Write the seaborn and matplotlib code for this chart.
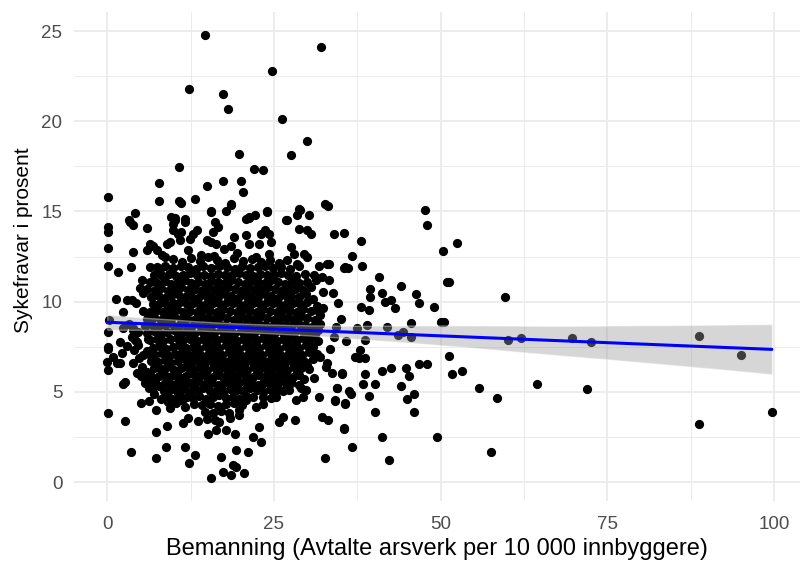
import matplotlib
matplotlib.use("Agg")
import matplotlib.pyplot as plt
import seaborn as sns
import pandas as pd

# ---------------- data ----------------
# (bemanning, sykefravar) pairs, grouped by region of the cloud
top_points = [
    (14.6, 24.8), (32.1, 24.1), (24.7, 22.76), (12.2, 21.8), (17.3, 21.5), (18.1, 20.7),
    (26.2, 20.1), (29.9, 18.9), (27.6, 18.1), (19.8, 18.2), (10.7, 17.46), (22.0, 17.37),
    (23.4, 17.28), (7.75, 16.6), (17.3, 16.7), (20.0, 16.7), (14.9, 16.4), (20.3, 16.1),
    (0.15, 15.8), (13.2, 15.7), (7.75, 15.56), (10.7, 15.56), (11.0, 15.45), (18.6, 15.4),
    (17.8, 15.0), (15.6, 15.0), (23.9, 15.0), (28.9, 15.1), (28.4, 14.8), (30.3, 14.8),
    (32.6, 15.4), (33.1, 15.3), (4.1, 14.9), (10.2, 14.65), (11.7, 14.56), (21.2, 14.65),
    (22.2, 14.8), (26.9, 14.55), (3.2, 14.5),
]

upper_points = [
    (0.15, 14.14), (0.15, 13.86), (0.15, 12.99), (0.15, 12.0), (1.6, 11.64), (3.6, 11.92),
    (3.8, 12.75), (3.4, 14.41), (3.9, 14.23), (6.0, 14.1), (6.4, 13.2), (6.9, 13.1),
    (5.9, 12.84), (7.4, 12.84), (8.2, 12.57), (8.6, 12.47), (6.4, 11.92), (7.9, 11.83),
    (9.6, 14.69), (10.1, 14.5), (9.9, 14.32), (11.6, 14.41), (9.9, 13.95), (10.6, 13.77),
    (11.1, 13.86), (9.4, 13.3), (8.9, 13.21), (10.9, 13.4), (12.1, 12.84), (12.9, 13.77),
    (13.4, 13.95), (12.4, 13.49), (15.6, 14.97), (16.1, 14.41), (16.6, 14.14), (15.8, 13.86),
    (14.9, 13.4), (15.6, 13.3), (16.3, 13.21), (18.6, 15.34), (21.3, 14.69), (20.8, 14.6),
    (24.0, 14.97), (20.8, 13.68), (21.3, 13.22), (23.1, 13.77), (23.6, 13.95), (24.3, 13.77),
    (24.5, 13.3), (22.8, 13.22), (24.3, 12.66), (22.3, 12.47), (26.8, 14.5), (28.8, 15.15),
    (28.8, 14.05), (30.0, 13.95), (30.5, 13.77), (27.5, 13.03), (28.0, 12.66), (29.5, 12.66),
    (30.0, 12.47), (17.5, 12.9), (18.5, 13.1), (19.5, 12.7), (14.0, 12.6), (16.0, 12.55),
    (19.0, 13.6), (27.0, 12.3), (28.5, 12.1), (31.7, 12.0), (33.0, 12.1), (32.2, 11.37),
    (35.7, 11.92),
]

left_points = [
    (1.3, 10.17), (2.9, 10.08), (3.7, 10.08), (2.4, 9.43), (0.15, 8.32), (0.15, 7.49),
    (2.4, 8.51), (3.9, 8.51), (3.7, 8.05), (4.4, 7.77), (5.2, 11.18), (4.9, 10.73),
    (5.4, 10.45), (0.2, 8.97), (3.9, 8.42), (4.2, 7.86), (1.9, 7.77), (0.15, 6.2),
    (0.15, 7.4), (0.0, 6.66), (1.9, 6.57), (0.9, 6.94), (2.2, 7.13), (3.9, 6.57),
    (4.4, 6.02), (5.4, 5.83), (6.4, 5.65), (5.4, 7.03), (1.4, 6.57), (2.4, 5.46),
    (2.6, 5.52), (5.6, 5.5), (6.8, 5.28),
]

lower_points = [
    (0.15, 3.84), (2.6, 3.4), (3.6, 1.66), (7.3, 1.31), (7.3, 2.79), (8.8, 1.95),
    (9.0, 3.12), (11.7, 1.95), (12.2, 1.07), (13.2, 1.48), (15.6, 0.2), (17.1, 1.38),
    (17.3, 0.57), (18.6, 0.39), (18.8, 0.94), (19.3, 0.85), (20.5, 0.48), (19.3, 1.77),
    (21.1, 1.66), (21.8, 2.49), (23.1, 2.21), (22.8, 3.06), (19.1, 2.66), (15.1, 2.66),
    (16.3, 2.88), (17.8, 2.88), (16.8, 3.34), (19.8, 3.99), (19.8, 3.71), (13.6, 3.4),
    (12.1, 3.53), (11.4, 3.25), (25.8, 3.34), (26.3, 3.62), (28.2, 3.43), (32.2, 3.62),
    (33.1, 3.43), (32.6, 1.31), (35.5, 2.97), (5.0, 4.36), (6.2, 4.5), (7.3, 3.99),
    (9.1, 4.45), (9.4, 4.08), (10.9, 4.54), (11.9, 4.72), (11.7, 4.17), (21.8, 4.72),
    (22.3, 4.17), (20.8, 4.54), (24.5, 5.09), (25.3, 4.72), (27.3, 5.09), (28.3, 4.54),
    (29.3, 4.72), (29.8, 5.09), (31.7, 4.72), (34.2, 4.54), (34.5, 5.19), (35.7, 4.36),
    (35.2, 6.02),
]

right_points = [
    (47.6, 15.08), (48.0, 14.27), (52.5, 13.25), (50.3, 12.8), (51.0, 11.07), (51.2, 11.07),
    (59.6, 10.24), (50.1, 8.88), (50.5, 8.88), (51.3, 6.96), (51.7, 5.96), (53.2, 6.14),
    (55.7, 5.22), (58.4, 4.67), (57.6, 1.66), (64.5, 5.41), (60.1, 7.85), (62.0, 7.97),
    (69.7, 8.01), (72.6, 7.75), (71.9, 5.13), (88.8, 8.07), (95.0, 7.05), (88.8, 3.21),
    (99.7, 3.86), (49.5, 2.49), (42.3, 1.22), (41.2, 2.49), (36.7, 1.95), (35.5, 2.93),
    (40.2, 3.86), (46.0, 3.86), (45.0, 4.6), (46.0, 4.87), (44.1, 5.32), (39.2, 4.78),
    (40.2, 5.41), (38.3, 5.41), (38.7, 5.96), (41.2, 6.15), (42.6, 6.33), (44.8, 6.33),
    (45.3, 5.87), (46.8, 6.52), (48.0, 6.52), (34.2, 4.5), (35.7, 4.32), (36.2, 5.06),
    (36.5, 4.87), (34.5, 5.22), (33.7, 6.05), (35.2, 5.96), (37.2, 6.94), (37.7, 6.85),
    (38.7, 6.85), (37.9, 7.31), (38.7, 7.85), (35.8, 7.79), (43.6, 8.14), (45.5, 8.05),
    (44.4, 8.32), (41.9, 8.6), (45.6, 8.79), (38.9, 8.69), (37.5, 8.54), (49.0, 9.71),
    (46.8, 9.9), (46.3, 10.43), (43.1, 9.62), (42.6, 10.08), (41.6, 9.98), (41.2, 10.45),
    (44.1, 10.89), (40.7, 11.35), (39.4, 10.7), (39.4, 10.26), (39.2, 9.52), (38.0, 9.71),
    (38.2, 11.98), (36.7, 12.53), (35.5, 11.89), (36.1, 11.89), (38.0, 13.36), (34.0, 13.73),
    (35.5, 13.82), (33.2, 12.1), (33.2, 11.2),
]

core_points = [
    (9.8, 12.35), (11.2, 12.2), (12.5, 12.4), (13.9, 12.25), (15.1, 12.45), (16.4, 12.3),
    (17.6, 12.15), (19.0, 12.4), (20.3, 12.25), (21.7, 12.35), (23.0, 12.2), (24.4, 12.3),
    (25.8, 12.15),
    (7.5, 11.9), (8.7, 11.95), (9.9, 11.85), (11.0, 12.0), (12.1, 11.9), (13.3, 11.8),
    (14.4, 11.95), (15.6, 11.85), (16.7, 12.0), (17.9, 11.9), (19.1, 11.8), (20.2, 11.95),
    (21.4, 11.85), (22.6, 11.9), (23.7, 12.0), (24.9, 11.85), (26.1, 11.9), (27.4, 11.8),
    (28.8, 11.95),
    (7.0, 11.5), (8.1, 11.45), (9.2, 11.55), (10.3, 11.4), (11.3, 11.5), (12.4, 11.6),
    (13.4, 11.45), (14.5, 11.5), (15.5, 11.4), (16.6, 11.55), (17.6, 11.5), (18.7, 11.45),
    (19.7, 11.6), (20.8, 11.5), (21.8, 11.4), (22.9, 11.55), (23.9, 11.5), (25.0, 11.45),
    (26.0, 11.6), (27.1, 11.5), (28.3, 11.4), (29.6, 11.55), (31.0, 11.45),
    (6.4, 11.1), (7.5, 11.05), (8.6, 11.15), (9.6, 11.0), (10.6, 11.1), (11.6, 11.2),
    (12.6, 11.05), (13.6, 11.1), (14.6, 11.0), (15.6, 11.15), (16.6, 11.1), (17.6, 11.05),
    (18.6, 11.2), (19.6, 11.1), (20.6, 11.0), (21.6, 11.15), (22.6, 11.1), (23.6, 11.05),
    (24.6, 11.2), (25.6, 11.1), (26.6, 11.0), (27.7, 11.15), (28.8, 11.05), (30.0, 11.1),
    (31.3, 11.2),
    (6.0, 10.7), (7.1, 10.65), (8.1, 10.75), (9.1, 10.6), (10.1, 10.7), (11.1, 10.8),
    (12.1, 10.65), (13.1, 10.7), (14.1, 10.6), (15.1, 10.75), (16.1, 10.7), (17.1, 10.65),
    (18.1, 10.8), (19.1, 10.7), (20.1, 10.6), (21.1, 10.75), (22.1, 10.7), (23.1, 10.65),
    (24.1, 10.8), (25.1, 10.7), (26.1, 10.6), (27.1, 10.75), (28.2, 10.7), (29.3, 10.65),
    (30.5, 10.8), (32.4, 10.55),
    (6.9, 10.3), (6.6, 10.25), (7.6, 10.35), (8.6, 10.2), (9.6, 10.3), (10.6, 10.4),
    (11.6, 10.25), (12.6, 10.3), (13.6, 10.2), (14.6, 10.35), (15.6, 10.3), (16.6, 10.25),
    (17.6, 10.4), (18.6, 10.3), (19.6, 10.2), (20.6, 10.35), (21.6, 10.3), (22.6, 10.25),
    (23.6, 10.4), (24.6, 10.3), (25.6, 10.2), (26.6, 10.35), (27.6, 10.3), (28.7, 10.25),
    (29.8, 10.4), (30.8, 10.15), (33.9, 10.45),
    (4.3, 9.95), (6.9, 9.85), (7.9, 9.95), (8.9, 9.8), (9.9, 9.9), (10.9, 10.0),
    (11.9, 9.85), (12.9, 9.9), (13.9, 9.8), (14.9, 9.95), (15.9, 9.9), (16.9, 9.85),
    (17.9, 10.0), (18.9, 9.9), (19.9, 9.8), (20.9, 9.95), (21.9, 9.9), (22.9, 9.85),
    (23.9, 10.0), (24.9, 9.9), (25.9, 9.8), (26.9, 9.95), (27.9, 9.9), (28.9, 9.85),
    (30.0, 10.0), (31.4, 9.75), (34.6, 9.95),
    (5.4, 9.5), (6.4, 9.45), (7.4, 9.55), (8.4, 9.4), (9.4, 9.5), (10.4, 9.6),
    (11.4, 9.45), (12.4, 9.5), (13.4, 9.4), (14.4, 9.55), (15.4, 9.5), (16.4, 9.45),
    (17.4, 9.6), (18.4, 9.5), (19.4, 9.4), (20.4, 9.55), (21.4, 9.5), (22.4, 9.45),
    (23.4, 9.6), (24.4, 9.5), (25.4, 9.4), (26.4, 9.55), (27.4, 9.5), (28.4, 9.45),
    (29.4, 9.6), (30.5, 9.5), (31.7, 9.4), (32.4, 9.65),
    (6.1, 9.1), (6.0, 9.05), (7.0, 9.15), (8.0, 9.0), (9.0, 9.1), (10.0, 9.2),
    (11.0, 9.05), (12.0, 9.1), (13.0, 9.0), (14.0, 9.15), (15.0, 9.1), (16.0, 9.05),
    (17.0, 9.2), (18.0, 9.1), (19.0, 9.0), (20.0, 9.15), (21.0, 9.1), (22.0, 9.05),
    (23.0, 9.2), (24.0, 9.1), (25.0, 9.0), (26.0, 9.15), (27.0, 9.1), (28.0, 9.05),
    (29.0, 9.2), (30.0, 9.1), (31.1, 9.0), (31.9, 9.25), (35.0, 9.05),
    (3.3, 8.75), (5.6, 8.65), (6.6, 8.75), (7.6, 8.6), (8.6, 8.7), (9.6, 8.8),
    (10.6, 8.65), (11.6, 8.7), (12.6, 8.6), (13.6, 8.75), (14.6, 8.7), (15.6, 8.65),
    (16.6, 8.8), (17.6, 8.7), (18.6, 8.6), (19.6, 8.75), (20.6, 8.7), (21.6, 8.65),
    (22.6, 8.8), (23.6, 8.7), (24.6, 8.6), (25.6, 8.75), (26.6, 8.7), (27.6, 8.65),
    (28.6, 8.8), (29.6, 8.7), (30.7, 8.6), (31.9, 8.75), (34.3, 8.6),
    (4.6, 8.3), (6.0, 8.25), (7.0, 8.35), (8.0, 8.2), (9.0, 8.3), (10.0, 8.4),
    (11.0, 8.25), (12.0, 8.3), (13.0, 8.2), (14.0, 8.35), (15.0, 8.3), (16.0, 8.25),
    (17.0, 8.4), (18.0, 8.3), (19.0, 8.2), (20.0, 8.35), (21.0, 8.3), (22.0, 8.25),
    (23.0, 8.4), (24.0, 8.3), (25.0, 8.2), (26.0, 8.35), (27.0, 8.3), (28.0, 8.25),
    (29.0, 8.4), (30.0, 8.3), (31.2, 8.2), (31.6, 8.45),
    (6.1, 7.9), (6.4, 7.85), (7.4, 7.95), (8.4, 7.8), (9.4, 7.9), (10.4, 8.0),
    (11.4, 7.85), (12.4, 7.9), (13.4, 7.8), (14.4, 7.95), (15.4, 7.9), (16.4, 7.85),
    (17.4, 8.0), (18.4, 7.9), (19.4, 7.8), (20.4, 7.95), (21.4, 7.9), (22.4, 7.85),
    (23.4, 8.0), (24.4, 7.9), (25.4, 7.8), (26.4, 7.95), (27.4, 7.9), (28.4, 7.85),
    (29.4, 8.0), (30.4, 7.9), (31.6, 7.8), (34.0, 8.05),
    (3.0, 7.55), (6.8, 7.45), (7.8, 7.55), (8.8, 7.4), (9.8, 7.5), (10.8, 7.6),
    (11.8, 7.45), (12.8, 7.5), (13.8, 7.4), (14.8, 7.55), (15.8, 7.5), (16.8, 7.45),
    (17.8, 7.6), (18.8, 7.5), (19.8, 7.4), (20.8, 7.55), (21.8, 7.5), (22.8, 7.45),
    (23.8, 7.6), (24.8, 7.5), (25.8, 7.4), (26.8, 7.55), (27.8, 7.5), (28.8, 7.45),
    (29.8, 7.6), (30.8, 7.5), (33.4, 7.35),
    (6.2, 7.1), (7.2, 7.05), (8.2, 7.15), (9.2, 7.0), (10.2, 7.1), (11.2, 7.2),
    (12.2, 7.05), (13.2, 7.1), (14.2, 7.0), (15.2, 7.15), (16.2, 7.1), (17.2, 7.05),
    (18.2, 7.2), (19.2, 7.1), (20.2, 7.0), (21.2, 7.15), (22.2, 7.1), (23.2, 7.05),
    (24.2, 7.2), (25.2, 7.1), (26.2, 7.0), (27.2, 7.15), (28.2, 7.1), (29.2, 7.05),
    (30.2, 7.2), (31.4, 7.1), (31.9, 6.95),
    (6.6, 6.7), (7.6, 6.65), (8.6, 6.75), (9.6, 6.6), (10.6, 6.7), (11.6, 6.8),
    (12.6, 6.65), (13.6, 6.7), (14.6, 6.6), (15.6, 6.75), (16.6, 6.7), (17.6, 6.65),
    (18.6, 6.8), (19.6, 6.7), (20.6, 6.6), (21.6, 6.75), (22.6, 6.7), (23.6, 6.65),
    (24.6, 6.8), (25.6, 6.7), (26.6, 6.6), (27.6, 6.75), (28.6, 6.7), (29.6, 6.65),
    (30.8, 6.8), (33.0, 6.6),
    (7.0, 6.3), (8.0, 6.25), (9.0, 6.35), (10.0, 6.2), (11.0, 6.3), (12.0, 6.4),
    (13.0, 6.25), (14.0, 6.3), (15.0, 6.2), (16.0, 6.35), (17.0, 6.3), (18.0, 6.25),
    (19.0, 6.4), (20.0, 6.3), (21.0, 6.2), (22.0, 6.35), (23.0, 6.3), (24.0, 6.25),
    (25.0, 6.4), (26.0, 6.3), (27.0, 6.2), (28.0, 6.35), (29.0, 6.3), (30.2, 6.25),
    (32.8, 6.4),
    (7.8, 5.9), (8.8, 5.85), (9.8, 5.95), (10.8, 5.8), (11.8, 5.9), (12.8, 6.0),
    (13.8, 5.85), (14.8, 5.9), (15.8, 5.8), (16.8, 5.95), (17.8, 5.9), (18.8, 5.85),
    (19.8, 6.0), (20.8, 5.9), (21.8, 5.8), (22.8, 5.95), (23.8, 5.9), (24.8, 5.85),
    (25.8, 6.0), (26.8, 5.9), (27.8, 5.8), (28.8, 5.95), (31.0, 5.75),
    (8.6, 5.5), (9.6, 5.45), (10.6, 5.55), (11.6, 5.4), (12.6, 5.5), (13.6, 5.6),
    (14.6, 5.45), (15.6, 5.5), (16.6, 5.4), (17.6, 5.55), (18.6, 5.5), (19.6, 5.45),
    (20.6, 5.6), (21.6, 5.5), (22.6, 5.4), (23.6, 5.55), (24.6, 5.5), (25.6, 5.45),
    (26.6, 5.6), (27.6, 5.5), (28.8, 5.4),
    (9.4, 5.1), (10.4, 5.05), (11.4, 5.15), (12.4, 5.0), (13.4, 5.1), (14.4, 5.2),
    (15.4, 5.05), (16.4, 5.1), (17.4, 5.0), (18.4, 5.15), (19.4, 5.1), (20.4, 5.05),
    (21.4, 5.2), (22.4, 5.1), (23.4, 5.0), (24.4, 5.15), (25.4, 5.1), (26.4, 5.05),
    (10.6, 4.7), (12.8, 4.65), (13.8, 4.75), (14.8, 4.6), (15.8, 4.7), (16.8, 4.8),
    (17.8, 4.65), (18.8, 4.7), (19.8, 4.6), (20.8, 4.75), (23.4, 4.7), (24.6, 4.65),
    (13.0, 4.3), (14.2, 4.25), (15.4, 4.35), (16.6, 4.2), (17.8, 4.3), (19.0, 4.4),
    (20.2, 4.25), (23.4, 4.3),
    (14.6, 3.9), (15.8, 3.85), (17.0, 3.95), (18.2, 3.8),
    (15.0, 3.5), (16.2, 3.45), (18.4, 3.55),
]

lower_left_core_points = [
    (4.0, 7.3), (4.8, 6.9), (5.2, 6.4), (5.9, 6.1), (6.5, 5.9), (7.2, 5.6),
    (7.8, 5.3), (8.5, 5.05), (9.0, 4.8), (9.7, 4.6), (10.3, 4.4), (4.6, 7.6),
    (6.0, 7.25), (6.9, 6.95), (7.5, 6.45), (8.3, 6.05), (9.1, 5.65), (9.9, 5.25),
    (10.8, 4.95), (11.4, 4.6), (5.0, 5.9), (6.3, 5.2), (7.0, 4.9), (8.1, 4.6),
]

lower_mid_core_points = [
    (10.5, 6.05), (11.5, 5.7), (12.5, 6.15), (13.5, 5.75), (14.5, 6.05), (15.5, 5.65),
    (16.5, 6.1), (17.5, 5.7), (18.5, 6.05), (19.5, 5.65), (20.5, 6.1), (21.5, 5.7),
    (22.5, 6.05), (23.5, 5.65), (24.5, 6.1), (25.5, 5.7), (26.5, 6.05), (27.5, 5.65),
    (28.5, 6.1), (29.5, 5.7),
    (11.0, 6.9), (12.0, 6.5), (13.0, 6.95), (14.0, 6.5), (15.0, 6.9), (16.0, 6.5),
    (17.0, 6.95), (18.0, 6.5), (19.0, 6.9), (20.0, 6.5), (21.0, 6.95), (22.0, 6.5),
    (23.0, 6.9), (24.0, 6.5), (25.0, 6.95), (26.0, 6.5), (27.0, 6.9), (28.0, 6.5),
    (29.0, 6.95), (30.0, 6.5),
    (11.0, 5.3), (13.0, 5.25), (15.0, 5.3), (17.0, 5.25), (19.0, 5.3), (21.0, 5.25),
    (23.0, 5.3), (25.0, 5.25), (27.0, 5.3), (29.0, 5.2),
]

x_ticks = [0, 25, 50, 75, 100]
y_ticks = [0, 5, 10, 15, 20, 25]
x_title = "Bemanning (Avtalte arsverk per 10 000 innbyggere)"
y_title = "Sykefravar i prosent"

all_points = (top_points + upper_points + left_points + lower_points + right_points
              + core_points + lower_left_core_points + lower_mid_core_points)
df = pd.DataFrame(all_points, columns=["bemanning", "sykefravar"])

# ---------------- plot ----------------
sns.set_theme(style="white")
plt.rcParams["font.family"] = ["Liberation Sans", "DejaVu Sans"]

fig = plt.figure(figsize=(8, 5.65), dpi=100)
ax = fig.add_axes([0.0919, 0.114, 0.908, 0.864])

sns.scatterplot(data=df, x="bemanning", y="sykefravar", color="black", s=44,
                linewidth=0, ax=ax, zorder=2)
n_before = len(ax.collections)
sns.regplot(data=df, x="bemanning", y="sykefravar", scatter=False, ax=ax, seed=1,
            color="#0000FF", line_kws={"linewidth": 2.2, "zorder": 4})
for coll in ax.collections[n_before:]:
    coll.set_facecolor("#999999")
    coll.set_alpha(0.4)
    coll.set_zorder(3)

ax.set_xlim(-5.06, 103.9)
ax.set_ylim(-1.03, 26.03)
ax.set_xticks(x_ticks)
ax.set_yticks(y_ticks)
ax.set_xticks([12.5, 37.5, 62.5, 87.5], minor=True)
ax.set_yticks([2.5, 7.5, 12.5, 17.5, 22.5], minor=True)
ax.grid(which="major", color="#EBEBEB", linewidth=1.3, zorder=0)
ax.grid(which="minor", color="#EBEBEB", linewidth=0.7, zorder=0)
ax.set_axisbelow(True)
for sp in ax.spines.values():
    sp.set_visible(False)
ax.tick_params(axis="both", which="both", length=0, labelsize=13.5, labelcolor="#4D4D4D")
ax.tick_params(axis="x", pad=11)
ax.tick_params(axis="y", pad=8)

ax.set_xlabel(x_title, fontsize=17, color="black", labelpad=4)
ax.set_ylabel(y_title, fontsize=15, color="black")
ax.yaxis.set_label_coords(-0.056, 0.534)

fig.savefig("out.png", dpi=100, facecolor="white")
